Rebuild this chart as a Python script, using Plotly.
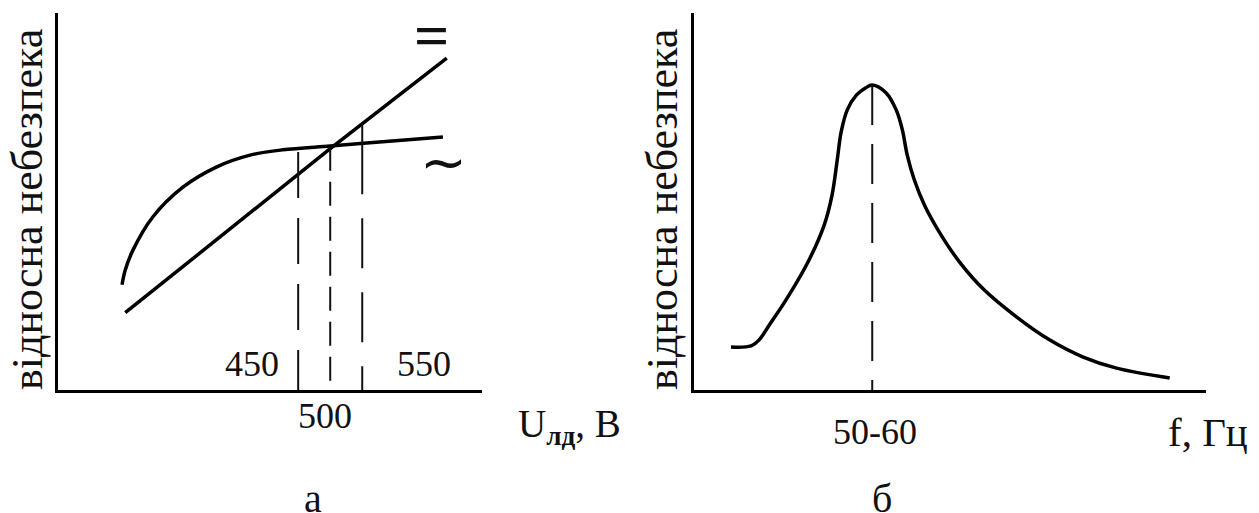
import plotly.graph_objects as go

# reference canvas and the browser's default 8px page margin
W, H = 1259, 513
OFF = 8
FW, FH = W - OFF, H - OFF

# ---------------- data: panel "а" (danger vs. voltage) ----------------
ac_voltage = [175, 180, 192, 223, 270, 323, 375, 426, 500, 557, 676]
ac_danger = [0.279, 0.318, 0.371, 0.459, 0.538, 0.592, 0.623, 0.637, 0.647, 0.655, 0.671]
dc_voltage = [180, 500, 682]
dc_danger = [0.205, 0.640, 0.880]
marker_voltages = [450, 500, 550]
marker_labels = ["450", "500", "550"]
marker_tops = [0.631, 0.645, 0.708]
ac_level_550 = 0.652

# ---------------- data: panel "б" (danger vs. frequency) ----------------
freq = [11.4, 17.6, 20.1, 23.2, 28.4, 35.5, 40.2, 42.6, 44.2, 45.4, 47.3, 50.1, 52.9,
        55.0, 59.3, 62.4, 64.3, 65.8, 68.0, 71.1, 75.7, 81.9, 89.6, 99.5, 109.7,
        119.9, 130.4, 146.8]
freq_danger = [0.114, 0.117, 0.133, 0.172, 0.239, 0.345, 0.438, 0.517, 0.610, 0.684,
               0.743, 0.782, 0.801, 0.809, 0.788, 0.743, 0.690, 0.623, 0.557, 0.491,
               0.419, 0.340, 0.265, 0.194, 0.133, 0.088, 0.058, 0.032]
peak_freq = 55.0
peak_danger = 0.809
peak_label = "50-60"

y_title = "відносна небезпека"

FONT = "Liberation Serif, Times New Roman, serif"
INK = "#111111"


def px(x):
    return (x - OFF) / FW


def py(y):
    return 1 - (y - OFF) / FH


fig = go.Figure()

# panel а curves
fig.add_trace(go.Scatter(x=ac_voltage, y=ac_danger, mode="lines",
                         line=dict(color="black", width=3.5, shape="spline", smoothing=1.0),
                         xaxis="x", yaxis="y", hoverinfo="skip"))
fig.add_trace(go.Scatter(x=dc_voltage, y=dc_danger, mode="lines",
                         line=dict(color="black", width=3.5),
                         xaxis="x", yaxis="y", hoverinfo="skip"))

dash_styles = ["46px,20px", "24px,11px", "50px,24px"]
for v, top, ds in zip(marker_voltages, marker_tops, dash_styles):
    start = top
    if v == 550:
        fig.add_trace(go.Scatter(x=[v, v], y=[top, ac_level_550], mode="lines",
                                 line=dict(color=INK, width=2),
                                 xaxis="x", yaxis="y", hoverinfo="skip"))
        start = ac_level_550
    fig.add_trace(go.Scatter(x=[v, v], y=[start, 0], mode="lines",
                             line=dict(color=INK, width=2, dash=ds),
                             xaxis="x", yaxis="y", hoverinfo="skip"))

# panel б curve
fig.add_trace(go.Scatter(x=freq, y=freq_danger, mode="lines",
                         line=dict(color="black", width=3.5, shape="spline", smoothing=1.0),
                         xaxis="x2", yaxis="y2", hoverinfo="skip"))
fig.add_trace(go.Scatter(x=[peak_freq, peak_freq], y=[peak_danger, 0], mode="lines",
                         line=dict(color=INK, width=2, dash="40px,19px"),
                         xaxis="x2", yaxis="y2", hoverinfo="skip"))

axis_common = dict(showline=True, linewidth=3, linecolor="black", showgrid=False,
                   zeroline=False, showticklabels=False, ticks="", fixedrange=True)

ydom = [py(390), py(13)]
fig.update_layout(
    width=FW, height=FH, autosize=False,
    margin=dict(l=0, r=0, t=0, b=0),
    paper_bgcolor="white", plot_bgcolor="white",
    showlegend=False,
    xaxis=dict(domain=[px(58), px(482)], range=[75, 737], anchor="y", **axis_common),
    yaxis=dict(domain=ydom, range=[0, 1], anchor="x", **axis_common),
    xaxis2=dict(domain=[px(694), px(1206)], range=[0, 158], anchor="y2", **axis_common),
    yaxis2=dict(domain=ydom, range=[0, 1], anchor="x2", **axis_common),
)

ann = []


def text(x, y, s, size, xref="paper", xanchor="center", xshift=0, angle=0, bold=False,
         family=FONT):
    ann.append(dict(x=x, y=y, xref=xref, yref="paper", text=(f"<b>{s}</b>" if bold else s),
                    showarrow=False, xanchor=xanchor, yanchor="middle", xshift=xshift,
                    textangle=angle, font=dict(family=family, size=size, color=INK)))


# panel а labels
text(450, py(363.5), marker_labels[0], 36, xref="x", xanchor="right", xshift=-17)
text(500, py(415.5), marker_labels[1], 36, xref="x", xanchor="center", xshift=-5)
text(550, py(363.5), marker_labels[2], 36, xref="x", xanchor="left", xshift=33)
text(px(516), py(426), "U<sub><b>лд</b></sub>, В", 39, xanchor="left")
text(px(27), py(210), y_title, 44, angle=-90)
text(px(431.5), py(34.5), "=", 62, bold=True)
text(px(443.5), py(161), "~", 56, family="DejaVu Sans, sans-serif")
text(px(313), py(498), "а", 40)

# panel б labels
text(peak_freq, py(431.5), peak_label, 36, xref="x2", xanchor="center", xshift=2.5)
text(px(1166), py(432), "f, Гц", 41, xanchor="left")
text(px(662), py(210), y_title, 44, angle=-90)
text(px(882), py(498), "б", 40)

fig.update_layout(annotations=ann)

fig.write_html("out.html", config={"displayModeBar": False, "staticPlot": True})
